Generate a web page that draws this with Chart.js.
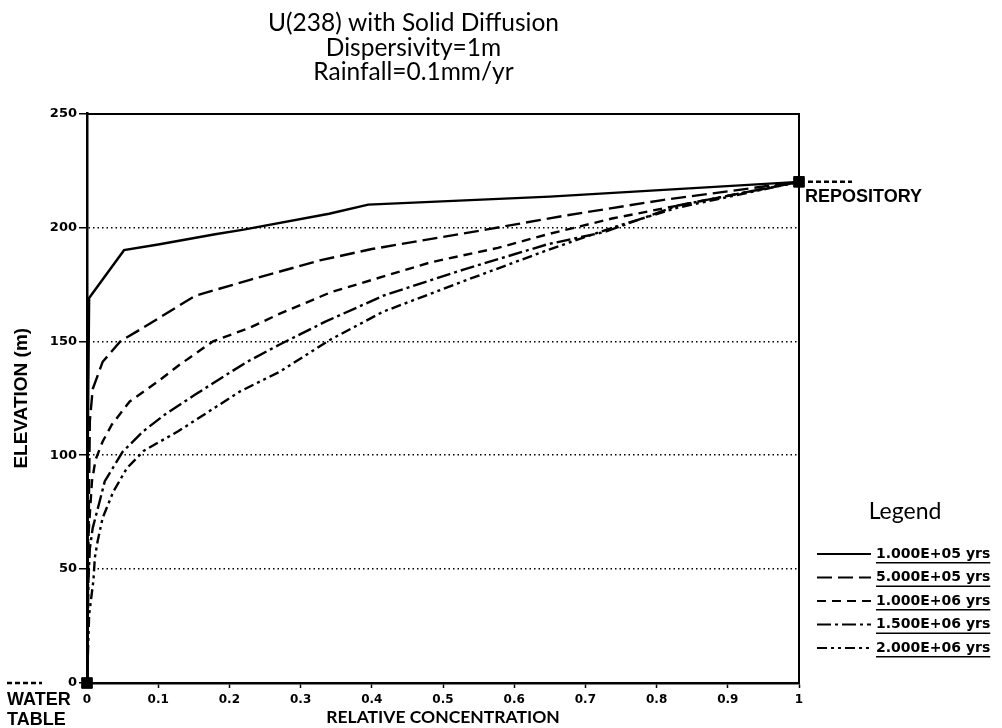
<!DOCTYPE html>
<html>
<head>
<meta charset="utf-8">
<script src="https://cdn.jsdelivr.net/npm/chart.js@4.4.1/dist/chart.umd.min.js"></script>
<style>
  html, body { margin: 0; padding: 0; background: #fff; }
</style>
</head>
<body>
<canvas id="chart" width="1002" height="728"></canvas>
<script>
// Title and axis texts
const titleLines = ["U(238) with Solid Diffusion", "Dispersivity=1m", "Rainfall=0.1mm/yr"];
const xTitle = "RELATIVE CONCENTRATION";
const yTitle = "ELEVATION (m)";
const legendTitle = "Legend";
const seriesLabels = ["1.000E+05 yrs", "5.000E+05 yrs", "1.000E+06 yrs", "1.500E+06 yrs", "2.000E+06 yrs"];

// Curve values (relative concentration, elevation in m)
const conc1 = [0, 0.001, 0.003, 0.052, 0.10, 0.18, 0.22, 0.34, 0.395, 0.65, 1];
const elev1 = [0, 100, 169, 190, 192.5, 197, 199, 206, 210, 213.5, 220];

const conc2 = [0, 0.002, 0.004, 0.008, 0.022, 0.047, 0.079, 0.152, 0.229, 0.327, 0.40, 0.56, 0.668, 0.808, 1];
const elev2 = [0, 60, 115, 129, 141, 150, 156, 170, 177, 185.5, 190.5, 199, 205, 212, 220];

const conc3 = [0, 0.001, 0.007, 0.012, 0.022, 0.035, 0.06, 0.098, 0.13, 0.177, 0.229, 0.27, 0.343, 0.483, 0.577, 0.647, 0.739, 1];
const elev3 = [0, 60, 88.6, 98, 106, 113.5, 123.6, 132, 139.7, 150, 156, 162, 171.6, 184.7, 191, 197, 204, 220];

const conc4 = [0, 0.002, 0.004, 0.008, 0.018, 0.025, 0.05, 0.079, 0.11, 0.152, 0.187, 0.225, 0.27, 0.334, 0.416, 0.531, 0.647, 0.727, 0.83, 1];
const elev4 = [0, 45, 59, 68, 80, 88.6, 101.5, 110.5, 118, 126.6, 133.6, 141, 148.5, 158.5, 170, 181.7, 192.6, 198, 209.6, 220];

const conc5 = [0, 0.003, 0.009, 0.011, 0.015, 0.022, 0.037, 0.056, 0.080, 0.128, 0.215, 0.271, 0.341, 0.416, 0.534, 0.65, 0.739, 0.83, 1];
const elev5 = [0, 30, 45, 55, 62.4, 72.5, 84, 94.3, 102, 110.5, 128, 136.7, 150.6, 163, 177, 190.4, 200, 208.7, 220];

// Square markers: water table at bottom, repository at top right
const markerConc = [0, 1];
const markerElev = [0, 220];
const repositoryText = "REPOSITORY";
const waterTableText = ["WATER", "TABLE"];

function zip(xs, ys) {
  return xs.map((x, i) => ({ x: x, y: ys[i] }));
}

// Line style for each curve
const dashes = [[], [15, 6], [9, 6], [14, 4, 3, 4], [10, 4, 3, 4, 3, 4]];
const concs = [conc1, conc2, conc3, conc4, conc5];
const elevs = [elev1, elev2, elev3, elev4, elev5];

const datasets = concs.map((c, i) => ({
  label: seriesLabels[i],
  data: zip(c, elevs[i]),
  showLine: true,
  borderColor: "#000",
  borderWidth: 2.4,
  borderDash: dashes[i],
  pointRadius: 0,
  tension: 0,
  inLegend: true
}));

datasets.push({
  label: "markers",
  data: zip(markerConc, markerElev),
  showLine: false,
  pointStyle: "rect",
  pointRadius: 7.5,
  backgroundColor: "#000",
  borderColor: "#000",
  clip: false
});

// Draws the legend block, the repository and water table labels
const extrasPlugin = {
  id: "extras",
  afterDraw(chart) {
    const c = chart.ctx;
    const xs = chart.scales.x, ys = chart.scales.y;
    c.save();
    c.fillStyle = "#000";
    c.strokeStyle = "#000";

    // repository mark
    const rx = xs.getPixelForValue(markerConc[1]);
    const ry = ys.getPixelForValue(markerElev[1]);
    c.lineWidth = 2.5;
    c.setLineDash([5, 3]);
    c.beginPath(); c.moveTo(rx + 9, ry); c.lineTo(rx + 53, ry); c.stroke();
    c.setLineDash([]);
    c.font = "bold 18px 'Liberation Sans'";
    c.textAlign = "left"; c.textBaseline = "middle";
    c.fillText(repositoryText, rx + 6, ry + 15);

    // water table mark
    const wy = ys.getPixelForValue(markerElev[0]);
    c.setLineDash([5, 3]);
    c.beginPath(); c.moveTo(7, wy); c.lineTo(42, wy); c.stroke();
    c.setLineDash([]);
    c.fillText(waterTableText[0], 7, wy + 17);
    c.fillText(waterTableText[1], 7, wy + 37);

    // legend
    const left = chart.chartArea.right + 18;
    c.font = "23px Lato";
    c.textAlign = "center";
    c.fillText(legendTitle, left + 88, 512);
    chart.data.datasets.filter(d => d.inLegend).forEach((d, i) => {
      const y = 554 + i * 23.5;
      c.lineWidth = 2.2;
      c.setLineDash(d.borderDash);
      c.beginPath(); c.moveTo(left, y); c.lineTo(left + 54, y); c.stroke();
      c.setLineDash([]);
      c.font = "bold 14px 'DejaVu Sans'";
      c.textAlign = "left";
      c.fillText(d.label, left + 59, y);
      const w = c.measureText(d.label).width;
      c.fillRect(left + 59, y + 8, w, 1.5);
    });
    c.restore();
  }
};

new Chart(document.getElementById("chart").getContext("2d"), {
  type: "scatter",
  data: { datasets: datasets },
  options: {
    responsive: false,
    animation: false,
    layout: { padding: { left: 8, right: 183, top: 0, bottom: 0 } },
    plugins: {
      legend: { display: false },
      tooltip: { enabled: false },
      title: {
        display: true,
        text: titleLines,
        color: "#000",
        font: { family: "Lato", size: 24.5, weight: "normal", lineHeight: 1.0 },
        padding: { top: 11, bottom: 29 }
      }
    },
    scales: {
      x: {
        type: "linear", position: "bottom", min: 0, max: 1,
        afterFit: s => { s.height = 45; },
        ticks: {
          stepSize: 0.1, color: "#000", font: { family: "DejaVu Sans", weight: "bold", size: 12 }, padding: 5, maxRotation: 0,
          callback: v => (v === 0 || v === 1) ? String(v) : v.toFixed(1)
        },
        grid: { drawOnChartArea: false, drawTicks: true, tickLength: 5, tickColor: "#000", tickWidth: 1.5 },
        border: { display: true, color: "#000", width: 2.5 },
        title: { display: true, text: xTitle, color: "#000", font: { family: "Lato", size: 17.5, weight: "bold" }, padding: 0 }
      },
      x2: {
        type: "linear", position: "top", min: 0, max: 1,
        afterFit: s => { s.height = 0; },
        ticks: { display: false },
        grid: { drawOnChartArea: false, drawTicks: false },
        border: { display: true, color: "#000", width: 2 }
      },
      y: {
        type: "linear", position: "left", min: 0, max: 250,
        afterFit: s => { s.width = 79; },
        ticks: { stepSize: 50, color: "#000", font: { family: "DejaVu Sans", weight: "bold", size: 13 }, padding: 2 },
        grid: {
          drawTicks: true, tickLength: 8, tickColor: "#000", tickWidth: 1.5, tickBorderDash: [],
          lineWidth: 1.5,
          color: ctx => (ctx.tick && (ctx.tick.value === 0 || ctx.tick.value === 250)) ? "rgba(0,0,0,0)" : "#000"
        },
        border: { display: true, color: "#000", width: 2.5, dash: [1.5, 3] },
        title: { display: true, text: yTitle, color: "#000", font: { family: "Liberation Sans", size: 19, weight: "bold" }, padding: { top: 2, bottom: 0 } }
      },
      y2: {
        type: "linear", position: "right", min: 0, max: 250,
        afterFit: s => { s.width = 20; },
        ticks: { display: false },
        grid: { drawOnChartArea: false, drawTicks: false },
        border: { display: true, color: "#000", width: 2 }
      }
    }
  },
  plugins: [extrasPlugin]
});
</script>
</body>
</html>
